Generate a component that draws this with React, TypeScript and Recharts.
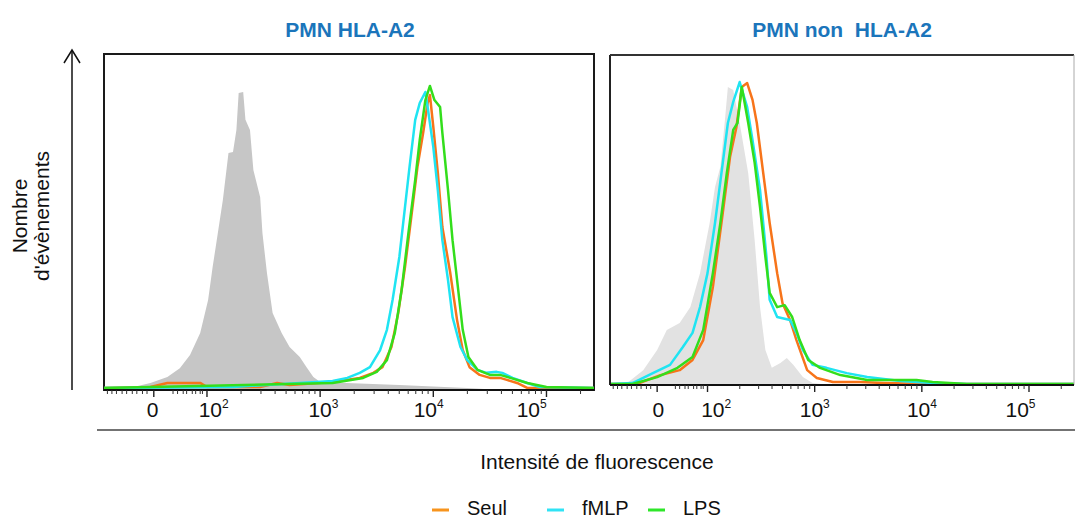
import React from 'react';
import { ComposedChart, Line, Area, XAxis, YAxis, ReferenceArea, ReferenceLine } from 'recharts';

const FONT = '"Liberation Sans", Arial, Helvetica, sans-serif';

// Display scale: decades of fluorescence (2 = 10², 3 = 10³ ...), logicle-like below 10²
const X_DOMAIN: [number, number] = [1.09, 5.42];

// ---------- Left panel: PMN HLA-A2 ----------
const leftGreyX = [1.09, 1.35, 1.5, 1.65, 1.76, 1.85, 1.94, 2.01, 2.05, 2.1, 2.14, 2.19, 2.23, 2.26, 2.28, 2.32, 2.34, 2.38, 2.41, 2.47, 2.49, 2.53, 2.58, 2.66, 2.73, 2.82, 2.88, 2.94, 3.0, 3.7, 4.3, 4.6];
const leftGreyY = [0, 0.9, 2.1, 3.9, 6.5, 10.4, 17.0, 26.8, 36.6, 47.6, 56.5, 70.5, 70.8, 77.4, 88.4, 88.7, 80.4, 77.4, 65.5, 57.4, 46.7, 34.8, 22.9, 17.0, 12.8, 9.8, 6.8, 3.9, 2.4, 1.5, 0.6, 0];

const leftSeulX = [1.09, 1.5, 1.65, 1.79, 1.94, 2.0, 2.47, 2.62, 2.73, 3.11, 3.35, 3.47, 3.55, 3.63, 3.69, 3.75, 3.81, 3.86, 3.91, 3.95, 3.97, 4.0, 4.04, 4.08, 4.15, 4.21, 4.26, 4.32, 4.41, 4.5, 4.59, 4.65, 4.74, 4.83, 5.42];
const leftSeulY = [0.6, 0.9, 2.1, 2.1, 2.1, 0.9, 0.9, 2.1, 1.5, 2.4, 3.6, 5.1, 6.8, 12.8, 22.9, 36.6, 52.7, 66.4, 76.5, 85.4, 87.8, 78.3, 64.6, 48.5, 34.8, 20.8, 11.9, 6.8, 4.5, 3.6, 3.6, 3.0, 2.1, 0.6, 0.6];

const leftFmlpX = [1.09, 2.23, 2.82, 3.11, 3.24, 3.35, 3.44, 3.53, 3.59, 3.64, 3.7, 3.75, 3.79, 3.84, 3.88, 3.93, 3.95, 4.0, 4.04, 4.08, 4.13, 4.17, 4.24, 4.3, 4.39, 4.47, 4.56, 4.61, 4.7, 4.83, 4.94, 5.42];
const leftFmlpY = [0.6, 0.9, 2.1, 2.7, 3.6, 5.1, 6.8, 11.9, 17.9, 26.8, 39.6, 54.5, 66.4, 80.4, 85.4, 88.7, 84.2, 72.3, 59.5, 44.6, 32.7, 21.7, 12.8, 8.9, 6.0, 5.1, 5.4, 5.1, 3.6, 2.1, 0.9, 0.6];

const leftLpsX = [1.09, 3.11, 3.38, 3.5, 3.59, 3.66, 3.72, 3.78, 3.84, 3.88, 3.93, 3.97, 4.01, 4.06, 4.08, 4.13, 4.17, 4.22, 4.26, 4.31, 4.39, 4.5, 4.59, 4.68, 4.83, 5.0, 5.42];
const leftLpsY = [0.6, 2.1, 3.6, 5.4, 8.9, 17.0, 29.8, 46.7, 62.5, 74.4, 86.3, 90.5, 86.3, 84.2, 76.5, 59.5, 44.6, 29.8, 17.9, 9.8, 6.0, 4.5, 4.5, 3.6, 2.1, 0.9, 0.6];

// ---------- Right panel: PMN non HLA-A2 ----------
const rightGreyX = [1.09, 1.25, 1.4, 1.53, 1.62, 1.74, 1.84, 1.93, 2.02, 2.07, 2.12, 2.16, 2.19, 2.24, 2.3, 2.38, 2.44, 2.49, 2.54, 2.6, 2.68, 2.74, 2.8, 2.89, 2.98, 3.14];
const rightGreyY = [0, 0.6, 4.5, 10.6, 16.7, 18.8, 23.6, 33.9, 49.1, 60.0, 66.1, 79.4, 90.3, 89.4, 79.4, 64.2, 43.9, 23.6, 10.6, 5.2, 6.7, 8.2, 6.1, 2.4, 0.6, 0];

const rightSeulX = [1.09, 1.34, 1.56, 1.74, 1.86, 1.96, 2.05, 2.13, 2.21, 2.27, 2.32, 2.37, 2.42, 2.46, 2.52, 2.58, 2.65, 2.7, 2.77, 2.83, 2.93, 3.02, 3.17, 3.42, 3.64, 4.1, 5.42];
const rightSeulY = [0.3, 0.3, 3.0, 4.5, 7.6, 13.6, 29.7, 49.1, 69.1, 78.2, 90.3, 91.5, 86.4, 79.4, 64.2, 49.1, 33.9, 24.8, 19.7, 13.6, 4.5, 2.1, 0.9, 0.9, 0.6, 0.3, 0.3];

const rightFmlpX = [1.09, 1.3, 1.49, 1.65, 1.77, 1.86, 1.93, 2.0, 2.07, 2.13, 2.19, 2.24, 2.3, 2.37, 2.42, 2.49, 2.55, 2.58, 2.65, 2.77, 2.83, 2.89, 2.98, 3.11, 3.3, 3.49, 3.8, 4.1, 4.42, 5.42];
const rightFmlpY = [0.3, 0.6, 3.6, 6.1, 11.5, 15.8, 23.6, 33.9, 49.1, 64.2, 79.4, 85.8, 91.8, 84.2, 74.2, 59.1, 38.8, 25.8, 20.6, 19.7, 15.8, 10.6, 6.1, 5.2, 3.6, 2.4, 1.2, 0.6, 0.3, 0.3];

const rightLpsX = [1.09, 1.3, 1.53, 1.72, 1.86, 1.96, 2.05, 2.12, 2.18, 2.24, 2.28, 2.32, 2.38, 2.44, 2.49, 2.54, 2.58, 2.65, 2.72, 2.79, 2.86, 2.94, 3.05, 3.24, 3.49, 3.95, 4.1, 4.42, 5.42];
const rightLpsY = [0.3, 0.3, 2.4, 5.2, 8.5, 16.7, 33.9, 49.1, 64.2, 77.3, 79.4, 90.3, 79.4, 67.3, 53.9, 38.8, 27.9, 23.6, 24.2, 20.6, 13.6, 7.6, 5.2, 3.0, 1.5, 1.5, 0.9, 0.3, 0.3];

// ---------- Axis ticks ----------
const MAJOR_TICKS = [1.53, 2, 3, 4, 5];
const LINEAR_MINOR_TICKS = [1.12, 1.16, 1.2, 1.25, 1.29, 1.34, 1.38, 1.43, 1.47, 1.7, 1.74, 1.79, 1.82, 1.87, 1.9, 1.94, 1.96];
const LOG_MINOR_TICKS: number[] = [];
[2, 3, 4, 5].forEach((d) => {
  for (let k = 2; k <= 9; k++) {
    const v = d + Math.log10(k);
    if (v < X_DOMAIN[1]) LOG_MINOR_TICKS.push(Number(v.toFixed(3)));
  }
});
const LEFT_TICK_LABELS = [
  { at: 1.52, base: '0', exp: '' },
  { at: 2.03, base: '10', exp: '2' },
  { at: 3.0, base: '10', exp: '3' },
  { at: 3.93, base: '10', exp: '4' },
  { at: 4.84, base: '10', exp: '5' },
];
const RIGHT_TICK_LABELS = [
  { at: 1.54, base: '0', exp: '' },
  { at: 2.05, base: '10', exp: '2' },
  { at: 2.97, base: '10', exp: '3' },
  { at: 3.97, base: '10', exp: '4' },
  { at: 4.89, base: '10', exp: '5' },
];

const SERIES = [
  { name: 'Seul', color: '#f7741a', legend: '#f7941d' },
  { name: 'fMLP', color: '#1fe4f2', legend: '#30e3f5' },
  { name: 'LPS', color: '#33de1c', legend: '#2ee62a' },
];

const toPts = (xs: number[], ys: number[]) => xs.map((x, i) => ({ x, y: ys[i] }));

function buildTicks(labels: { at: number }[]) {
  const s = new Set<number>([...MAJOR_TICKS, ...LINEAR_MINOR_TICKS, ...LOG_MINOR_TICKS, ...labels.map((l) => l.at)]);
  return Array.from(s).sort((a, b) => a - b);
}

function AxisTick(props: any) {
  const { x, y, payload, labels, labelDy } = props;
  const v = payload.value;
  const isMajor = MAJOR_TICKS.includes(v);
  const isMinor = LINEAR_MINOR_TICKS.includes(v) || LOG_MINOR_TICKS.includes(v);
  const lab = labels.find((l: any) => l.at === v);
  return (
    <g>
      {isMajor && <line x1={x} x2={x} y1={y} y2={y + 7} stroke="#222" strokeWidth={1.4} />}
      {!isMajor && isMinor && <line x1={x} x2={x} y1={y} y2={y + 4} stroke="#333" strokeWidth={1} />}
      {lab && (
        lab.exp === '' ? (
          <text x={x} y={y + labelDy} textAnchor="middle" fontSize={21} fontFamily={FONT} fill="#111">{lab.base}</text>
        ) : (
          <text x={x - 11.7} y={y + labelDy} textAnchor="start" fontSize={21} fontFamily={FONT} fill="#111">
            {lab.base}
            <tspan dy={-9} fontSize={12}>{lab.exp}</tspan>
          </text>
        )
      )}
    </g>
  );
}

function Panel(props: {
  width: number; height: number; margin: any; axisHeight: number; labels: any[]; labelDy: number;
  grey: { x: number; y: number }[]; greyColor: string; lines: { x: number; y: number }[][]; variant: 'left' | 'right';
}) {
  const { width, height, margin, axisHeight, labels, labelDy, grey, greyColor, lines, variant } = props;
  return (
    <ComposedChart width={width} height={height} margin={margin}>
      <XAxis
        type="number"
        dataKey="x"
        domain={X_DOMAIN}
        allowDataOverflow
        ticks={buildTicks(labels)}
        interval={0}
        height={axisHeight}
        tickSize={0}
        tickMargin={0}
        tickLine={false}
        axisLine={{ stroke: '#111', strokeWidth: 2 }}
        tick={<AxisTick labels={labels} labelDy={labelDy} />}
      />
      <YAxis type="number" domain={[0, 100]} hide width={0} />
      <Area data={grey} dataKey="y" type="linear" fill={greyColor} fillOpacity={1} stroke="none" isAnimationActive={false} dot={false} activeDot={false} />
      {lines.map((d, i) => (
        <Line key={SERIES[i].name} data={d} dataKey="y" type="linear" stroke={SERIES[i].color} strokeWidth={2.5} strokeLinejoin="round" dot={false} activeDot={false} isAnimationActive={false} />
      ))}
      {variant === 'left' ? (
        <ReferenceArea x1={X_DOMAIN[0]} x2={X_DOMAIN[1]} y1={0} y2={100} fill="none" stroke="#1a1a1a" strokeWidth={2} ifOverflow="visible" />
      ) : null}
      {variant === 'right' ? <ReferenceLine x={X_DOMAIN[0]} stroke="#222" strokeWidth={2} ifOverflow="visible" /> : null}
      {variant === 'right' ? <ReferenceLine y={100} stroke="#333" strokeWidth={2} ifOverflow="visible" /> : null}
      {variant === 'right' ? <ReferenceLine x={X_DOMAIN[1]} stroke="#aaa" strokeWidth={1} ifOverflow="visible" /> : null}
    </ComposedChart>
  );
}

export default function App() {
  const leftLines = [toPts(leftSeulX, leftSeulY), toPts(leftFmlpX, leftFmlpY), toPts(leftLpsX, leftLpsY)];
  const rightLines = [toPts(rightSeulX, rightSeulY), toPts(rightFmlpX, rightFmlpY), toPts(rightLpsX, rightLpsY)];
  const legendX = [432, 547, 648];
  return (
    <div style={{ position: 'absolute', left: 0, top: 0, width: 1075, height: 520, background: '#fff', overflow: 'hidden', fontFamily: FONT }}>
      <div style={{ position: 'absolute', left: 0, top: 0 }}>
        <Panel width={600} height={440} margin={{ top: 54, right: 6, bottom: 0, left: 104 }} axisHeight={50}
          labels={LEFT_TICK_LABELS} labelDy={27} grey={toPts(leftGreyX, leftGreyY)} greyColor="#c6c6c6" lines={leftLines} variant="left" />
      </div>
      <div style={{ position: 'absolute', left: 600, top: 0 }}>
        <Panel width={475} height={440} margin={{ top: 55, right: 1, bottom: 0, left: 10 }} axisHeight={55}
          labels={RIGHT_TICK_LABELS} labelDy={32} grey={toPts(rightGreyX, rightGreyY)} greyColor="#e2e2e2" lines={rightLines} variant="right" />
      </div>
      <svg width={1075} height={520} style={{ position: 'absolute', left: 0, top: 0, pointerEvents: 'none' }}>
        <text x={350} y={37} textAnchor="middle" fontSize={21} fontWeight="bold" fill="#1b75bb" fontFamily={FONT}>PMN HLA-A2</text>
        <text x={842} y={37} textAnchor="middle" fontSize={21} fontWeight="bold" fill="#1b75bb" fontFamily={FONT} style={{ whiteSpace: 'pre' }}>PMN non  HLA-A2</text>
        <text transform="translate(27,216) rotate(-90)" textAnchor="middle" fontSize={21} fill="#111" fontFamily={FONT}>Nombre</text>
        <text transform="translate(49,216) rotate(-90)" textAnchor="middle" fontSize={21} fill="#111" fontFamily={FONT}>d'évènements</text>
        <line x1={72} y1={390} x2={72} y2={50} stroke="#111" strokeWidth={1.5} />
        <polyline points="64,63 72,50 80,63" fill="none" stroke="#111" strokeWidth={1.5} />
        <line x1={97} y1={430} x2={1075} y2={430} stroke="#444" strokeWidth={1.5} />
        <text x={597} y={469} textAnchor="middle" fontSize={21} fill="#111" fontFamily={FONT}>Intensité de fluorescence</text>
        {SERIES.map((s, i) => (
          <g key={s.name}>
            <line x1={legendX[i]} x2={legendX[i] + 17} y1={510} y2={510} stroke={s.legend} strokeWidth={3} />
            <text x={legendX[i] + 35} y={515} fontSize={20} fill="#111" fontFamily={FONT}>{s.name}</text>
          </g>
        ))}
      </svg>
    </div>
  );
}
